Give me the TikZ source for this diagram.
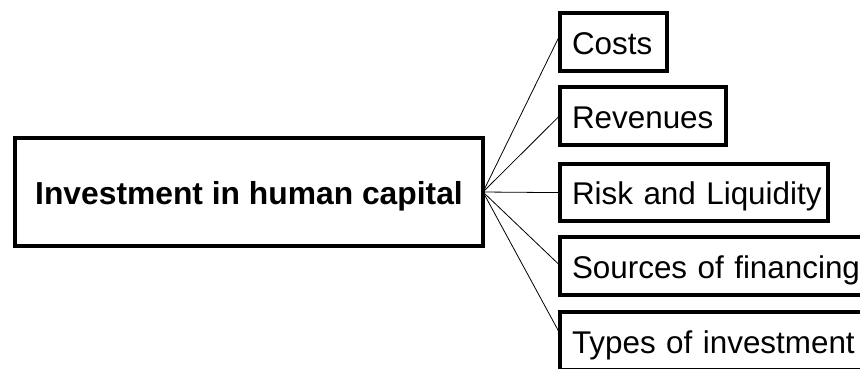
\documentclass[tikz,border=0pt]{standalone}
\usepackage{fontspec}
\setmainfont{Liberation Sans}
\begin{document}
\begin{tikzpicture}[x=1pt,y=-1pt,
  box/.style={draw, line width=4pt, outer sep=0pt, inner sep=0pt,
    text height=24.3pt, text depth=0pt,
    font=\fontsize{31.4}{36}\selectfont},
  topic/.style={box, font=\fontsize{31.8}{36}\selectfont\bfseries,
    align=center},
  item/.style={box, minimum height=57.7pt, align=left},
  link/.style={line width=0.8pt}]
\useasboundingbox (0,0) rectangle (860,368);
\clip (0,0) rectangle (860,368);
\fill[white] (0,0) rectangle (860,368);

% central topic
\node[topic, minimum width=468pt, minimum height=108pt] (main) at (249,192)
  {Investment in human capital};

% branches, text set flush left inside each frame
\newcommand{\lead}{\hspace*{12.5pt}}
\node[item, minimum width=107.8pt, text width=107.8pt] (costs) at (613.4,41.85) {\lead Costs};
\node[item, minimum width=166.8pt, text width=166.8pt] (rev) at (642.9,115.85) {\lead Revenues};
\node[item, minimum width=268.5pt, text width=268.5pt] (risk) at (693.75,192.6) {\lead Risk and Liquidity};
\node[item, minimum width=340pt, text width=340pt] (src) at (729.5,266) {\lead Sources of financing};
\node[item, minimum width=340pt, text width=340pt] (types) at (729.5,340.85) {\lead Types of investment};

% fan of connectors from the central topic
\draw[link] (main.east) -- ([yshift=6pt]costs.west);
\draw[link] (main.east) -- (rev.west);
\draw[link] (main.east) -- (risk.west);
\draw[link] (main.east) -- ([yshift=1pt]src.west);
\draw[link] (main.east) -- ([yshift=8pt]types.west);
\end{tikzpicture}
\end{document}
